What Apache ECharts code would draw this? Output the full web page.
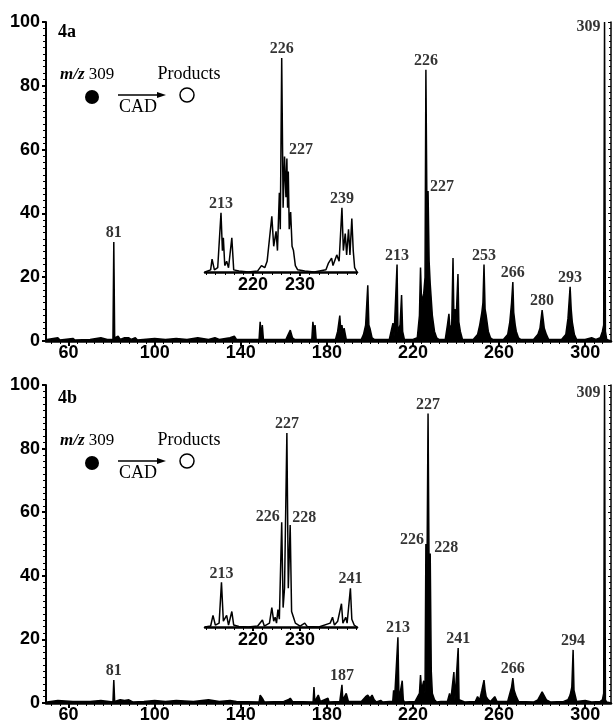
<!DOCTYPE html>
<html lang="en">
<head>
<meta charset="UTF-8">
<title>CAD spectra 4a / 4b</title>
<script src="https://cdn.jsdelivr.net/npm/echarts@6/dist/echarts.min.js"></script>
<style>
    body { margin: 0; background: #fff; }
    #main { width: 613px; height: 726px; }
</style>
</head>
<body>
<div id="main"></div>
<script>
// [m/z, relative abundance]
var specA = [
    [50,0.5],[55,1],[56,0.3],[62,0.8],[63,0.3],[70,0.5],[75,1],[78,0.5],
    [80.6,0.5],[81,31],[81.4,1],[83,1.5],[84,0.5],[86,1],[88,1],[89,0.5],[91,1],[92,0.3],
    [100,0.8],[105,0.5],[110,0.8],[115,0.5],[120,1],[125,0.5],[128,1],[130,0.5],[135,1],[137,1.5],[138,0.5],[142,0.5],
    [148.5,0.5],[149,6],[149.5,1],[150,5],[150.5,0.5],[155,0.5],
    [161,0.5],[162,2],[163,3.4],[164,1],[165,0.5],[170,0.5],
    [173,0.5],[173.5,6],[174,3],[174.5,5],[175,0.5],
    [184,0.5],[185,3],[186,8],[186.5,3],[187,5],[187.5,2],[188,4],[189,0.5],
    [196,0.5],[197,2],[198,5],[199,17.5],[199.5,5],[200,4],[201,1],[202,0.5],
    [209,0.5],[210.7,5.6],[211.2,1.5],[212,1.5],[212.6,24],[213,3],[214,5],[214.7,14.4],[215.2,3],[216,0.5],
    [220,0.5],[222,1],[223,8],[223.5,23],[224,12],[225,15],[225.6,20],[226,85],[226.5,40],[227,47],[227.5,25],[228,18],[229,8],[230,3],[231,1],[232,0.5],
    [235,0.5],[236,5],[236.7,8.5],[237.2,4],[238,5],[238.6,26],[239,8],[239.5,10],[240,6],[240.9,21],[241.3,6],[242,3],[243,0.5],
    [248,0.5],[250,2],[251,5],[252,9],[252.5,12],[253,24],[253.5,10],[254,8],[255,3],[256,1],[257,0.5],
    [262,0.5],[264,2],[265,6],[265.8,12],[266.4,18.5],[266.8,9],[267.5,5],[268,3],[269,1],[270,0.5],
    [276,0.5],[278,2],[279,4],[280,9.7],[281,4],[282,2],[283,0.5],
    [289,0.5],[291,2],[292,7],[293,17],[293.5,10],[294,6],[295,2],[296,0.5],
    [300,0.5],[303,1],[305,0.5],[307,1],[308,3],[308.6,5],[309,100],[309.4,3],[310,0.5],[312,0]
];
var insetA = [
    [209.8,0],[211,1],[211.3,6],[211.8,1],[212.5,2],[213.2,27.7],[213.5,10],[213.7,16],[214,3],[214.4,5],[214.8,2],[215.5,16],[215.9,1],[217,0.5],[219,0],
    [221,0.5],[221.8,3],[222.5,2],[223,5],[224,26],[224.4,12],[224.9,19],[225.2,10],[225.6,37],[225.8,20],[226.1,100],[226.4,30],[226.7,54],[227,35],
    [227.2,53],[227.35,30],[227.5,47],[227.7,20],[228,28],[228.3,12],[228.6,10],[229,3],[229.5,1],[231,0.5],[233,0],
    [235.5,1],[236,4],[236.7,6.5],[237,3],[237.8,8],[238.3,5],[238.9,30],[239.2,10],[239.6,18],[239.9,8],[240.3,20],[240.6,8],[241,25],[241.3,10],[241.6,2],[242.1,0]
];
var specB = [
    [50,0.3],[55,0.8],[62,0.5],[70,0.5],[75,0.8],[80.6,0.3],[81,7.2],[81.4,0.5],[84,1],[86,0.8],[88,1],[90,0.3],[95,0.5],
    [100,0.8],[105,0.5],[110,0.8],[118,0.5],[125,1],[130,0.5],[135,0.8],[138,0.5],
    [148.5,0.3],[149,2.5],[150,1.5],[151,0.3],[160,0.5],[162,1],[163,1.5],[164,0.5],
    [173.6,0.3],[174,5],[174.4,0.5],[176,2.5],[177,0.5],[180.5,1.5],[181,0.3],
    [186,0.5],[186.6,1],[187,5.7],[187.4,1],[189,3],[190,0.5],
    [196,0.5],[198,2],[199,2.5],[200,1.5],[201,2.5],[202,1],[203,0.3],[205,0.8],[206,0.3],
    [209,0.5],[210.6,0.5],[211,4],[211.4,0.5],[213,20.7],[213.5,1],[214,3],[215,7],[215.5,1],[216,0.3],
    [221,0.5],[223,3],[223.5,8.8],[224,4],[225,7],[225.6,3],[226,50],[226.5,40],[227,91],[227.5,40],[228,47],[228.5,10],[229,3],[230,1],[231,0.3],
    [233,0.5],[236,0.5],[237,3],[237.5,0.5],[239,9.7],[239.5,1],[240,1.5],[241,17.3],[241.4,1],[242,0.5],[244,0.3],
    [249,0.5],[250,2],[251,1],[252,4],[253,7.2],[253.5,4],[254,2],[255,1],[256,0.5],[258,2],[259,0.5],[261,0.5],
    [264,0.5],[265,3],[265.8,5],[266.4,7.8],[267,4],[268,2],[269,0.5],
    [276,0.3],[278,1],[280,3.5],[282,1],[284,0.3],
    [290,0.5],[292,1],[293,2.5],[293.8,5],[294.4,16.7],[294.8,4],[295.5,2],[296,0.5],
    [300,0.8],[303,0.3],[307,0.5],[308,1],[308.6,3],[309,100],[309.4,1],[310,0.3],[312,0]
];
var insetB = [
    [209.8,0],[211,0.5],[211.5,6],[212,1],[212.8,2],[213.3,23],[213.7,3],[214.4,6],[214.8,1],[215.5,8],[215.9,1],[217,0.3],[219,0],
    [221,0.5],[222,3.6],[222.4,0.5],[223.5,2],[224,10],[224.4,3],[224.7,5],[225,2],[225.3,9],[225.6,4],[226.1,54],[226.4,10],[226.7,20],
    [227.2,100],[227.5,20],[227.9,52.6],[228.2,8],[228.6,5],[229,2],[230,0.5],[231,2],[231.5,0.3],[234,0],
    [236.4,2],[236.9,5],[237.3,1],[238,3],[238.8,12],[239.1,2],[239.7,5],[240,2],[240.7,20],[241,4],[241.5,1],[242.1,0]
];

// peaks that carry an m/z label
var labelsA = [81, 212.6, 226, 227, 253, 266.4, 280, 293, 309];
var labelsInsetA = [213.2, 226.1, 227.2, 238.9];
var labelsB = [81, 187, 213, 226, 227, 228, 241, 266.4, 294.4, 309];
var labelsInsetB = [213.3, 226.1, 227.2, 227.9, 240.7];

var xTicks = [60, 100, 140, 180, 220, 260, 300];
var insetTicks = [220, 230];

var minorX = [];
for (var v = 52; v <= 308; v += 4) minorX.push(v);
var minorInset = [];
for (var w = 210; w <= 242; w += 2) minorInset.push(w);

var myChart = echarts.init(document.getElementById('main'));

var sansBold = {color: '#000', fontFamily: 'Liberation Sans', fontWeight: 'bold', fontSize: 18};

function mainX(grid) {
    return {
        gridIndex: grid, type: 'value', min: 49.5, max: 312, position: 'bottom',
        axisLine: {show: true, onZero: false, lineStyle: {color: '#000', width: 2.5}},
        axisTick: {show: true, customValues: xTicks, length: 5, lineStyle: {color: '#000', width: 2}},
        axisLabel: Object.assign({customValues: xTicks, margin: 3}, sansBold),
        splitLine: {show: false}
    };
}
function minorAxis(grid, lo, hi, vals) {
    return {
        gridIndex: grid, type: 'value', min: lo, max: hi, position: 'bottom',
        axisLine: {show: false},
        axisTick: {show: true, customValues: vals, length: 3, lineStyle: {color: '#000', width: 1}},
        axisLabel: {show: false}, splitLine: {show: false}
    };
}
function insetX(grid) {
    return {
        gridIndex: grid, type: 'value', min: 209.8, max: 242.1, position: 'bottom',
        axisLine: {show: true, onZero: false, lineStyle: {color: '#000', width: 2.5}},
        axisTick: {show: true, customValues: insetTicks, length: 4, lineStyle: {color: '#000', width: 2}},
        axisLabel: Object.assign({customValues: insetTicks, margin: 4}, sansBold),
        splitLine: {show: false}
    };
}
function leftY(grid) {
    return {
        gridIndex: grid, type: 'value', min: 0, max: 100, interval: 20, position: 'left',
        axisLine: {show: true, lineStyle: {color: '#000', width: 2}},
        axisTick: {show: true, length: 4, lineStyle: {color: '#000', width: 2}},
        minorTick: {show: true, splitNumber: 10, length: 3, lineStyle: {color: '#000', width: 1}},
        axisLabel: Object.assign({margin: 6}, sansBold),
        splitLine: {show: false}
    };
}
function rightY(grid) {
    return {
        gridIndex: grid, type: 'value', min: 0, max: 100, interval: 20, position: 'right',
        axisLine: {show: true, lineStyle: {color: '#000', width: 1.5}},
        axisTick: {show: true, inside: true, length: 3, lineStyle: {color: '#000'}},
        minorTick: {show: true, splitNumber: 10, length: 2, lineStyle: {color: '#000'}},
        axisLabel: {show: false}, splitLine: {show: false}
    };
}
function hiddenY(grid) {
    return {gridIndex: grid, type: 'value', min: 0, max: 100, show: false};
}

function spectrum(data, xi, yi, filled) {
    var s = {
        type: 'line', xAxisIndex: xi, yAxisIndex: yi, data: data,
        symbol: 'none', showSymbol: false, silent: true, z: 3,
        lineStyle: {color: '#000', width: 1.5}
    };
    if (filled) s.areaStyle = {color: '#000', opacity: 1};
    return s;
}

// label placement: text -> [position, dx, dy]
function peakLabels(list, data, xi, yi, sides) {
    var pts = list.map(function (mz) {
        var h = 0;
        data.forEach(function (p) { if (p[0] === mz) h = p[1]; });
        var item = {value: [mz, h]};
        var s = sides[String(Math.round(mz))];
        if (s) item.label = {position: s[0], distance: 2, offset: [s[1], s[2]]};
        return item;
    });
    return {
        type: 'scatter', xAxisIndex: xi, yAxisIndex: yi, data: pts,
        symbolSize: 0, silent: true, z: 5,
        label: {
            show: true, position: 'top', distance: 1,
            formatter: function (p) { return String(Math.round(p.value[0])); },
            color: '#000', fontFamily: 'Liberation Serif', fontWeight: 'bold', fontSize: 16
        }
    };
}

function scheme(tag, dy) {
    var serif = 'Liberation Serif';
    return [
        {type: 'text', x: 58, y: dy + 32, style: {text: tag, font: 'bold 18px ' + serif, fill: '#000', verticalAlign: 'middle'}},
        {type: 'text', x: 60, y: dy + 75, style: {
            text: '{i|m/z} 309', fontSize: 17, fontFamily: serif, fill: '#000', verticalAlign: 'middle',
            rich: {i: {fontStyle: 'italic', fontWeight: 'bold', fontSize: 17, fontFamily: serif}}
        }},
        {type: 'circle', shape: {cx: 92, cy: dy + 97, r: 7}, style: {fill: '#000'}},
        {type: 'line', shape: {x1: 118, y1: dy + 95, x2: 160, y2: dy + 95}, style: {stroke: '#000', lineWidth: 1.5}},
        {type: 'polygon', shape: {points: [[166, dy + 95], [157, dy + 92], [157, dy + 98]]}, style: {fill: '#000'}},
        {type: 'text', x: 138, y: dy + 107, style: {text: 'CAD', font: '18px ' + serif, fill: '#000', align: 'center', verticalAlign: 'middle'}},
        {type: 'text', x: 189, y: dy + 74, style: {text: 'Products', font: '18px ' + serif, fill: '#000', align: 'center', verticalAlign: 'middle'}},
        {type: 'circle', shape: {cx: 187, cy: dy + 95, r: 7}, style: {fill: '#fff', stroke: '#000', lineWidth: 1.5}}
    ];
}

var option = {
    animation: false,
    backgroundColor: '#fff',
    grid: [
        {left: 46, top: 22, width: 565, height: 319},
        {left: 205, top: 58, width: 152, height: 214},
        {left: 46, top: 385, width: 565, height: 318},
        {left: 205, top: 433, width: 152, height: 194}
    ],
    xAxis: [
        mainX(0), insetX(1), mainX(2), insetX(3),
        minorAxis(0, 49.5, 312, minorX), minorAxis(2, 49.5, 312, minorX),
        minorAxis(1, 209.8, 242.1, minorInset), minorAxis(3, 209.8, 242.1, minorInset)
    ],
    yAxis: [leftY(0), hiddenY(1), leftY(2), hiddenY(3), rightY(0), rightY(2)],
    graphic: scheme('4a', 0).concat(scheme('4b', 366)),
    series: [
        spectrum(specA, 0, 0, true),
        spectrum(insetA, 1, 1, false),
        spectrum(specB, 2, 2, true),
        spectrum(insetB, 3, 3, false),
        peakLabels(labelsA, specA, 0, 0, {227: ['right', 0, -4], 309: ['left', -2, 5]}),
        peakLabels(labelsInsetA, insetA, 1, 1, {227: ['right', 0, -9]}),
        peakLabels(labelsB, specB, 2, 2, {226: ['left', 0, -4], 228: ['right', 2, -6], 309: ['left', -2, 8]}),
        peakLabels(labelsInsetB, insetB, 3, 3, {226: ['left', 0, -5], 228: ['right', 0, -7]})
    ]
};

myChart.setOption(option);
</script>
</body>
</html>
